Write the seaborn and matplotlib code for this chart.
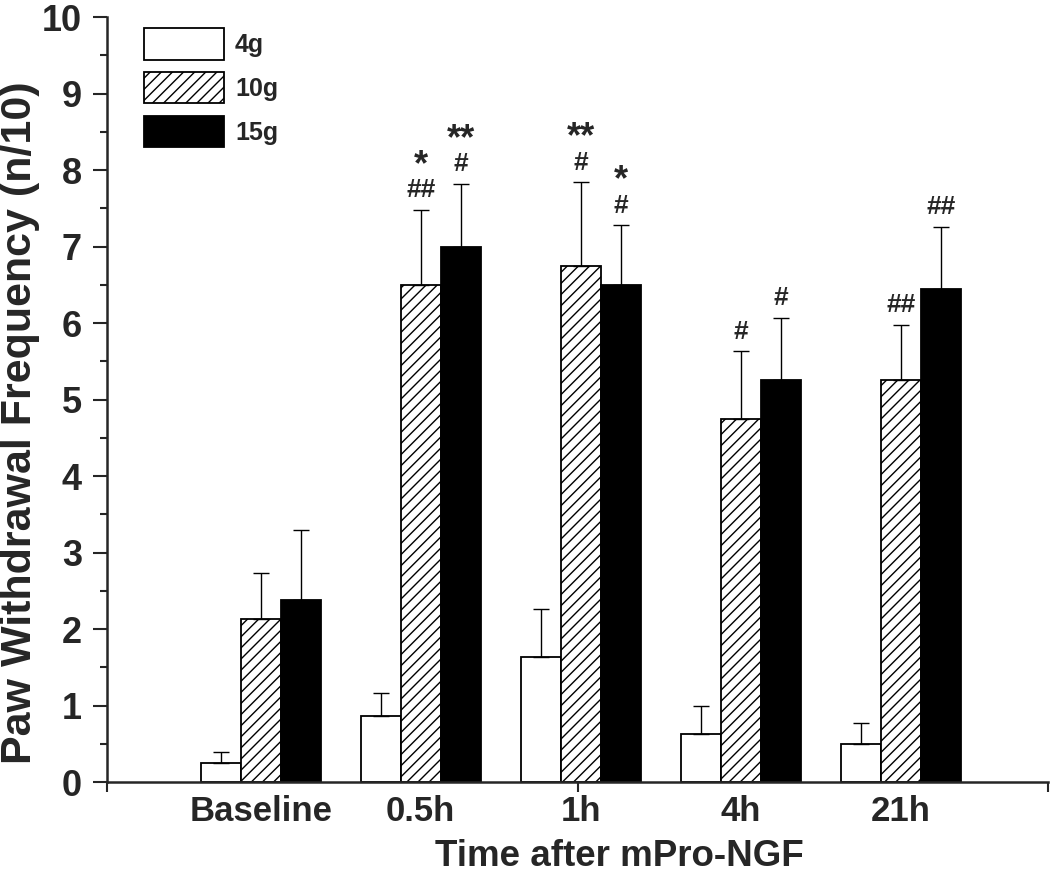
"""Paw withdrawal frequency after mPro-NGF, grouped bars per filament force."""
import numpy as np
import pandas as pd
import matplotlib.pyplot as plt
import seaborn as sns

TIMES = ["Baseline", "0.5h", "1h", "4h", "21h"]
FORCES = ["4g", "10g", "15g"]
MEAN_4G = [0.25, 0.87, 1.63, 0.63, 0.50]
MEAN_10G = [2.13, 6.50, 6.75, 4.75, 5.25]
MEAN_15G = [2.38, 7.00, 6.50, 5.25, 6.44]
SEM_4G = [0.15, 0.30, 0.63, 0.37, 0.27]
SEM_10G = [0.61, 0.98, 1.09, 0.88, 0.73]
SEM_15G = [0.92, 0.82, 0.78, 0.82, 0.82]
# significance marks above each bar: hash line, then star line on top
HASH_10G = ["", "##", "#", "#", "##"]
HASH_15G = ["", "#", "#", "#", "##"]
STAR_10G = ["", "*", "**", "", ""]
STAR_15G = ["", "**", "*", "", ""]
EMPTY = [""] * len(TIMES)

df = pd.DataFrame({
    "time": TIMES * 3,
    "force": [f for f in FORCES for _ in TIMES],
    "mean": MEAN_4G + MEAN_10G + MEAN_15G,
    "sem": SEM_4G + SEM_10G + SEM_15G,
    "hash": EMPTY + HASH_10G + HASH_15G,
    "star": EMPTY + STAR_10G + STAR_15G,
})

sns.set_style("ticks")
plt.rcParams["font.family"] = ["Liberation Sans", "DejaVu Sans"]
plt.rcParams["font.weight"] = "bold"
plt.rcParams["hatch.linewidth"] = 1.0

fig = plt.figure(figsize=(10.5, 8.72), dpi=100)
ax = fig.add_axes([0.102, 0.103, 0.896, 0.8775])

sns.barplot(
    data=df, x="time", y="mean", hue="force", order=TIMES, hue_order=FORCES,
    palette={"4g": "white", "10g": "white", "15g": "black"},
    edgecolor="black", linewidth=1.3, width=0.75, gap=0, errorbar=None,
    saturation=1, ax=ax,
)

hatches = {"4g": "", "10g": "///", "15g": ""}
for cont, force in zip(ax.containers, FORCES):
    sub = df[df["force"] == force].set_index("time").loc[TIMES]
    xs = [p.get_x() + p.get_width() / 2 for p in cont.patches]
    for p in cont.patches:
        p.set_hatch(hatches[force])
    ax.errorbar(xs, sub["mean"], yerr=[np.zeros(len(xs)), sub["sem"]],
                fmt="none", ecolor="black", elinewidth=1.0, capsize=6,
                capthick=1.0, zorder=1)
    for x, top, h, s in zip(xs, sub["mean"] + sub["sem"], sub["hash"], sub["star"]):
        if h:
            ax.annotate(h, (x, top), xytext=(0, 9), textcoords="offset points",
                        ha="center", va="baseline", fontsize=19, fontweight="bold")
        if s:
            ax.annotate(s, (x, top), xytext=(0, 25), textcoords="offset points",
                        ha="center", va="baseline", fontsize=26, fontweight="bold")

xmin, xmax = -0.96, 4.92
ax.set_ylim(0, 10)
ax.set_xlim(xmin, xmax)
ax.set_yticks(range(0, 11))
ax.set_yticks(np.arange(0.5, 10, 1), minor=True)
ax.set_xticks([xmin, (xmin + xmax) / 2, xmax], minor=True)
ax.tick_params(axis="y", which="major", length=10, width=1.5, labelsize=26, pad=8)
ax.tick_params(axis="y", which="minor", length=5, width=1.5)
ax.tick_params(axis="x", which="major", length=0, labelsize=25, pad=9)
ax.tick_params(axis="x", which="minor", length=7, width=1.5)
for lab in ax.get_xticklabels() + ax.get_yticklabels():
    lab.set_fontweight("bold")

sns.despine(ax=ax)
for side in ["left", "bottom"]:
    ax.spines[side].set_linewidth(1.8)

ax.set_ylabel("Paw Withdrawal Frequency (n/10)", fontsize=31, fontweight="bold")
ax.yaxis.set_label_coords(-0.071, 0.47)
ax.set_xlabel("Time after mPro-NGF", fontsize=26.5, fontweight="bold")
ax.xaxis.set_label_coords(0.545, -0.074)

handles, labels = ax.get_legend_handles_labels()
for h, force in zip(handles, FORCES):
    h.set_hatch(hatches[force])
ax.legend(handles, labels, loc="upper left", bbox_to_anchor=(0.039, 0.985),
          frameon=False, fontsize=18, handlelength=3.2, handleheight=1.54,
          labelspacing=0.5, handletextpad=0.45, borderaxespad=0.0, borderpad=0.0)

fig.savefig("out.png", dpi=100)
